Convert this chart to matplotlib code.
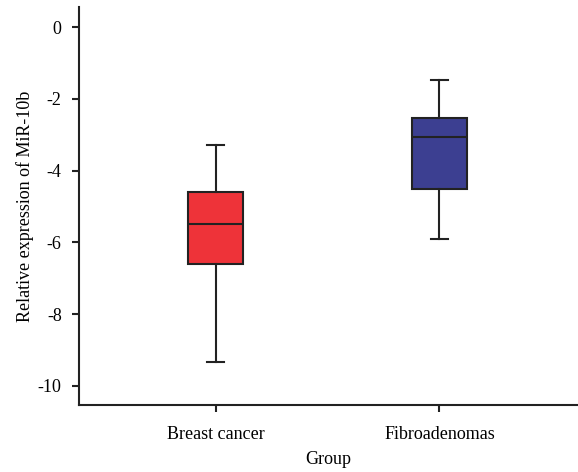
import matplotlib
matplotlib.use("Agg")
import matplotlib.pyplot as plt

groups = ["Breast cancer", "Fibroadenomas"]
whislo = [-9.33, -5.91]
q1 = [-6.61, -4.52]
med = [-5.48, -3.06]
q3 = [-4.60, -2.53]
whishi = [-3.28, -1.47]
colors = ["#EE3339", "#3C3F91"]
yticks = [0, -2, -4, -6, -8, -10]

plt.rcParams['font.family'] = ['Liberation Serif', 'DejaVu Serif']

fig = plt.figure(figsize=(5.78, 4.72), dpi=100)
ax = fig.add_axes([0.1367, 0.142, 0.862, 0.843])

stats = []
for i, g in enumerate(groups):
    stats.append(dict(label=g, whislo=whislo[i], q1=q1[i], med=med[i], q3=q3[i], whishi=whishi[i], fliers=[]))

bp = ax.bxp(stats, positions=[1, 2], widths=0.248, patch_artist=True, showfliers=False,
            boxprops=dict(linewidth=1.5, edgecolor="#222222"),
            medianprops=dict(color="#222222", linewidth=1.5),
            whiskerprops=dict(color="#222222", linewidth=1.5),
            capprops=dict(color="#222222", linewidth=1.5),
            capwidths=0.075)
for patch, c in zip(bp['boxes'], colors):
    patch.set_facecolor(c)

ax.set_xlim(0.389, 2.616)
ax.set_ylim(-10.53, 0.56)
ax.set_yticks(yticks)
ax.set_yticklabels([str(t) for t in yticks])
ax.set_xticks([1, 2])
ax.set_xticklabels(groups)
for s in ['top', 'right']:
    ax.spines[s].set_visible(False)
for s in ['left', 'bottom']:
    ax.spines[s].set_linewidth(1.5)
    ax.spines[s].set_color("#222222")
ax.tick_params(axis='both', direction='out', length=5, width=1.5, color="#222222", labelsize=13)
ax.tick_params(axis='x', pad=10)
ax.tick_params(axis='y', pad=7.5)
ax.set_xlabel("Group", fontsize=13, labelpad=6)
ax.set_ylabel("Relative expression of MiR-10b", fontsize=13, labelpad=2.5)

fig.savefig("out.png", dpi=100)
